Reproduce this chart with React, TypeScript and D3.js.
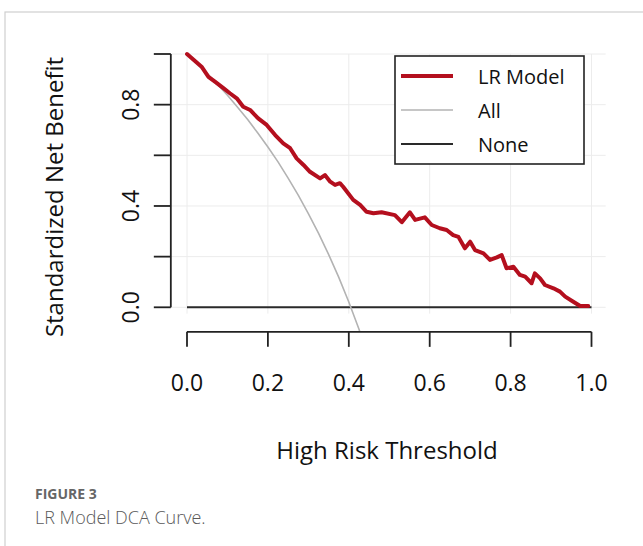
import React from 'react'
import * as d3 from 'd3'

// threshold probabilities and standardized net benefit
const modelThreshold = [0, 0.036, 0.053, 0.069, 0.09, 0.106, 0.123, 0.139, 0.156, 0.176, 0.197, 0.218, 0.238, 0.255, 0.271, 0.288, 0.304, 0.329, 0.341, 0.354, 0.366, 0.378, 0.386, 0.411, 0.428, 0.444, 0.461, 0.481, 0.514, 0.531, 0.551, 0.564, 0.588, 0.605, 0.625, 0.642, 0.658, 0.671, 0.687, 0.7, 0.712, 0.733, 0.749, 0.766, 0.778, 0.79, 0.807, 0.823, 0.836, 0.852, 0.86, 0.873, 0.885, 0.906, 0.922, 0.935, 0.955, 0.972, 0.992]
const modelBenefit = [1.0, 0.95, 0.91, 0.891, 0.865, 0.845, 0.825, 0.792, 0.779, 0.746, 0.72, 0.68, 0.647, 0.628, 0.588, 0.562, 0.535, 0.509, 0.522, 0.496, 0.483, 0.49, 0.476, 0.424, 0.404, 0.377, 0.371, 0.375, 0.364, 0.336, 0.375, 0.345, 0.355, 0.325, 0.312, 0.305, 0.285, 0.278, 0.233, 0.259, 0.226, 0.213, 0.187, 0.197, 0.206, 0.154, 0.16, 0.128, 0.121, 0.095, 0.134, 0.114, 0.088, 0.075, 0.062, 0.042, 0.022, 0.005, 0.005]

const allThreshold = [0, 0.025, 0.05, 0.075, 0.1, 0.125, 0.15, 0.175, 0.2, 0.225, 0.25, 0.275, 0.3, 0.325, 0.35, 0.375, 0.4, 0.425, 0.45]
const allBenefit = [1.0, 0.962, 0.923, 0.881, 0.837, 0.79, 0.741, 0.688, 0.633, 0.574, 0.51, 0.443, 0.37, 0.293, 0.209, 0.119, 0.021, -0.086, -0.202]

const noneThreshold = [0, 1]
const noneBenefit = [0, 0]

const xTicks = [0, 0.2, 0.4, 0.6, 0.8, 1.0]
const yTicks = [0, 0.2, 0.4, 0.6, 0.8, 1.0]
const yTickLabels = ['0.0', '', '0.4', '', '0.8', '']

const legendNames = ['LR Model', 'All', 'None']

const font = '"Open Sans", sans-serif'

export default function App() {
  const width = 643
  const height = 546

  // plot region (R style, 4% padding on both axes)
  const x = d3.scaleLinear().domain([0, 1]).range([187, 591.5])
  const y = d3.scaleLinear().domain([0, 1]).range([307.3, 54])

  const left = x(-0.04)
  const right = x(1.04)
  const top = y(1.042)
  const bottom = y(-0.097)

  const line = d3.line<[number, number]>()
    .x(d => x(d[0]))
    .y(d => y(d[1]))

  const model = modelThreshold.map((t, i) => [t, modelBenefit[i]] as [number, number])
  const all = allThreshold.map((t, i) => [t, allBenefit[i]] as [number, number])
  const none = noneThreshold.map((t, i) => [t, noneBenefit[i]] as [number, number])

  const styles = [
    { stroke: '#b40f1e', width: 4 },
    { stroke: '#b3b3b3', width: 1.6 },
    { stroke: '#2a2a2a', width: 2 },
  ]

  const axisColor = '#222'

  return (
    <svg width={width} height={height} style={{ position: 'absolute', left: 0, top: 0, background: '#fff' }}>
      <defs>
        <clipPath id="plot">
          <rect x={left} y={top} width={right - left} height={bottom - top} />
        </clipPath>
      </defs>

      {/* card border */}
      <rect x={5} y={12} width={700} height={600} fill="none" stroke="#cfcfcf" strokeWidth={1.2} />

      {/* grid */}
      <g stroke="#ececec" strokeWidth={1}>
        {yTicks.map(t => (
          <line key={'gy' + t} x1={left} x2={right - 2} y1={y(t)} y2={y(t)} />
        ))}
        {xTicks.map(t => (
          <line key={'gx' + t} x1={x(t)} x2={x(t)} y1={y(1.0)} y2={y(-0.025)} />
        ))}
      </g>

      {/* series */}
      <g clipPath="url(#plot)" fill="none" strokeLinejoin="round" strokeLinecap="round">
        <path d={line(none) || ''} stroke={styles[2].stroke} strokeWidth={styles[2].width} strokeLinecap="butt" />
        <path d={line(all) || ''} stroke={styles[1].stroke} strokeWidth={styles[1].width} />
        <path d={line(model) || ''} stroke={styles[0].stroke} strokeWidth={styles[0].width} />
      </g>

      {/* y axis */}
      <g stroke={axisColor} strokeWidth={1.8}>
        <line x1={left} x2={left} y1={y(0)} y2={y(1)} />
        {yTicks.map(t => (
          <line key={'ty' + t} x1={left - 17} x2={left} y1={y(t)} y2={y(t)} />
        ))}
      </g>
      {yTicks.map((t, i) => (
        <text key={'ly' + t} transform={`translate(${130},${y(t)}) rotate(-90)`} textAnchor="middle"
          dominantBaseline="central" fontFamily={font} fontSize={23} fill="#111">
          {yTickLabels[i]}
        </text>
      ))}

      {/* x axis */}
      <g stroke={axisColor} strokeWidth={1.8}>
        <line x1={x(0)} x2={x(1)} y1={bottom} y2={bottom} />
        {xTicks.map(t => (
          <line key={'tx' + t} x1={x(t)} x2={x(t)} y1={bottom} y2={bottom + 15} />
        ))}
      </g>
      {xTicks.map(t => (
        <text key={'lx' + t} x={x(t)} y={391} textAnchor="middle" fontFamily={font} fontSize={23} fill="#111">
          {t.toFixed(1)}
        </text>
      ))}

      {/* titles */}
      <text x={387} y={459} textAnchor="middle" fontFamily={font} fontSize={24} fill="#111">High Risk Threshold</text>
      <text transform={`translate(${63},${197}) rotate(-90)`} textAnchor="middle" fontFamily={font} fontSize={24} fill="#111">
        Standardized Net Benefit
      </text>

      {/* legend */}
      <rect x={395} y={56} width={189} height={108} fill="#fff" stroke="#222" strokeWidth={1.6} />
      {legendNames.map((name, i) => (
        <g key={name}>
          <line x1={401} x2={453} y1={76 + i * 34} y2={76 + i * 34} stroke={styles[i].stroke} strokeWidth={styles[i].width} />
          <text x={478} y={76 + i * 34} dominantBaseline="central" fontFamily={font} fontSize={20} fill="#111">{name}</text>
        </g>
      ))}

      {/* caption */}
      <text x={35} y={499} fontFamily={font} fontSize={14} fontWeight={700} fill="#666">FIGURE 3</text>
      <text x={35} y={524} fontFamily={font} fontSize={18} fontWeight={300} fill="#5a5a5a">LR Model DCA Curve.</text>
    </svg>
  )
}
